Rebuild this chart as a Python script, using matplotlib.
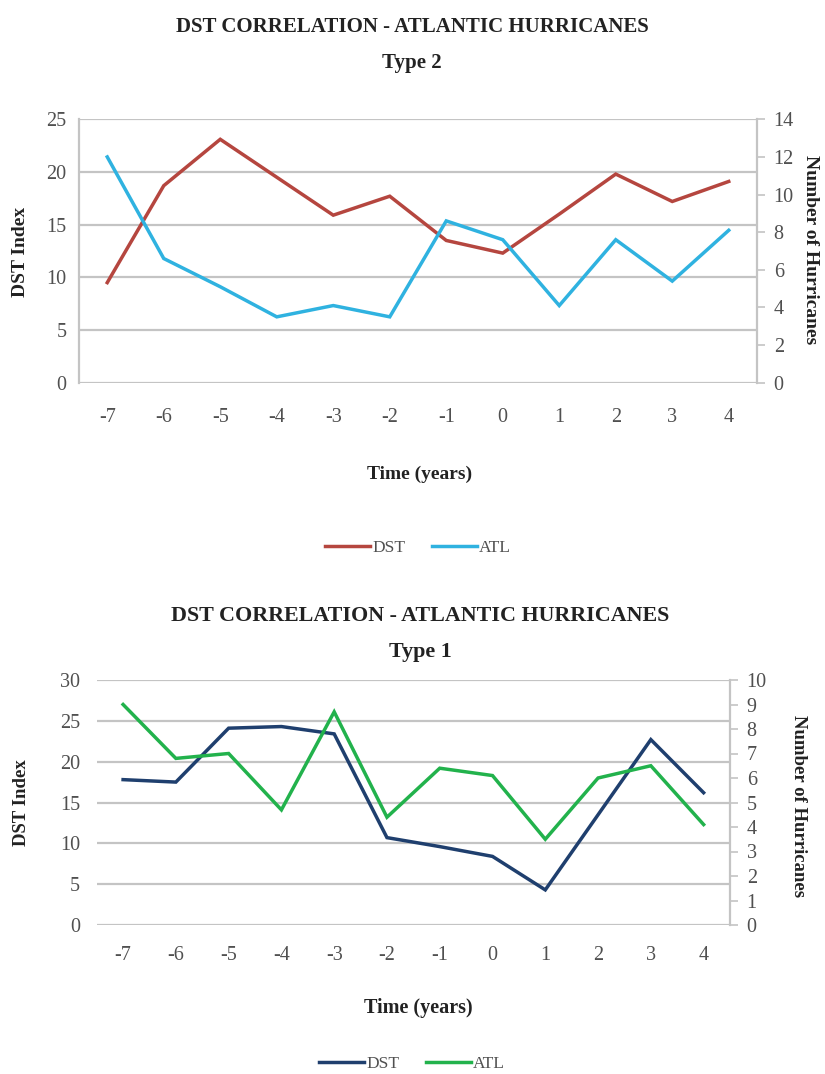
import matplotlib
matplotlib.use("Agg")
import matplotlib.pyplot as plt
from matplotlib.lines import Line2D

plt.rcParams['font.family'] = ['Liberation Serif', 'DejaVu Serif']

# Years relative to event
years = ["-7", "-6", "-5", "-4", "-3", "-2", "-1", "0", "1", "2", "3", "4"]

# Type 2 events
dst_type2 = [9.5, 18.7, 23.1, 19.5, 15.9, 17.7, 13.5, 12.3, 16.0, 19.8, 17.2, 19.1]
atl_type2 = [12.0, 6.6, 5.1, 3.5, 4.1, 3.5, 8.6, 7.6, 4.1, 7.6, 5.4, 8.1]

# Type 1 events
dst_type1 = [17.8, 17.5, 24.1, 24.3, 23.4, 10.7, 9.6, 8.4, 4.3, 13.5, 22.7, 16.2]
atl_type1 = [9.0, 6.8, 7.0, 4.7, 8.7, 4.4, 6.4, 6.1, 3.5, 6.0, 6.5, 4.1]

W, H = 825, 1074
fig = plt.figure(figsize=(W / 100, H / 100), dpi=100)

GRID = "#c4c4c4"
TICKC = "#505050"
TXT = "#222222"
LW = 2.5


def fx(px):
    return px / W


def fy(py):
    return 1 - py / H


def make_chart(rect, dst, atl, c_dst, c_atl, left_max, left_step, right_max, right_step,
               left_spine, xpad, lpad, rpad):
    x = list(range(len(years)))
    ax = fig.add_axes(rect)
    ax2 = ax.twinx()
    ax.set_zorder(ax2.get_zorder() - 1)
    ax.patch.set_visible(False)

    ax.plot(x, dst, color=c_dst, lw=LW, solid_joinstyle='miter', zorder=3)
    ax2.plot(x, atl, color=c_atl, lw=LW, solid_joinstyle='miter', zorder=3)

    ax.set_xlim(-0.5, len(years) - 0.5)
    ax.set_ylim(0, left_max)
    ax.set_yticks(range(0, left_max + 1, left_step))
    ax2.set_ylim(0, right_max)
    ax2.set_yticks(range(0, right_max + 1, right_step))
    ax.set_xticks(x)
    ax.set_xticklabels(years)

    ax.yaxis.grid(True, color=GRID, lw=1.6)
    ax.set_axisbelow(True)

    for a in (ax, ax2):
        for s in ("top", "bottom", "left", "right"):
            a.spines[s].set_visible(False)
    if left_spine:
        ax.spines["left"].set_visible(True)
        ax.spines["left"].set_color(GRID)
        ax.spines["left"].set_linewidth(1.6)
    ax2.spines["right"].set_visible(True)
    ax2.spines["right"].set_color(GRID)
    ax2.spines["right"].set_linewidth(1.6)

    ax.tick_params(axis="x", length=0, pad=xpad, labelsize=14.5, labelcolor=TICKC)
    ax.tick_params(axis="y", length=0, pad=lpad, labelsize=14.5, labelcolor=TICKC)
    ax2.tick_params(axis="y", length=6, width=1.2, color=GRID, pad=rpad,
                    labelsize=14.5, labelcolor=TICKC, direction="out")
    return ax, ax2


# ---- Type 2 chart ----
make_chart([fx(79), fy(382.7), fx(757) - fx(79), fy(119.3) - fy(382.7)],
           dst_type2, atl_type2, "#b5463f", "#2fb2e0", 25, 5, 14, 2,
           True, 18, 9, 6)

fig.text(fx(412), fy(27), "DST CORRELATION - ATLANTIC HURRICANES", ha="center", va="center",
         fontsize=15, fontweight="bold", color=TXT)
fig.text(fx(412), fy(63), "Type 2", ha="center", va="center",
         fontsize=15, fontweight="bold", color=TXT)
fig.text(fx(21), fy(252), "DST Index", ha="center", va="center", rotation=90,
         fontsize=14, fontweight="bold", color=TXT)
fig.text(fx(810), fy(250), "Number of Hurricanes", ha="center", va="center", rotation=-90,
         fontsize=14, fontweight="bold", color=TXT)
fig.text(fx(420), fy(474), "Time (years)", ha="center", va="center",
         fontsize=14, fontweight="bold", color=TXT)
fig.legend(handles=[Line2D([], [], color="#b5463f", lw=LW),
                    Line2D([], [], color="#2fb2e0", lw=LW)],
           labels=["DST", "ATL"], loc="center", bbox_to_anchor=(fx(418), fy(548)),
           ncol=2, frameon=False, fontsize=12.5, handlelength=2.6, handletextpad=0.15,
           columnspacing=1.5, labelcolor=TICKC)

# ---- Type 1 chart ----
make_chart([fx(96.7), fy(925), fx(730) - fx(96.7), fy(680) - fy(925)],
           dst_type1, atl_type1, "#1f3f6e", "#22b24c", 30, 5, 10, 1,
           False, 15, 12, 6)

fig.text(fx(420), fy(616), "DST CORRELATION - ATLANTIC HURRICANES", ha="center", va="center",
         fontsize=15.8, fontweight="bold", color=TXT)
fig.text(fx(420), fy(652), "Type 1", ha="center", va="center",
         fontsize=15.8, fontweight="bold", color=TXT)
fig.text(fx(22), fy(803), "DST Index", ha="center", va="center", rotation=90,
         fontsize=13.5, fontweight="bold", color=TXT)
fig.text(fx(798), fy(806), "Number of Hurricanes", ha="center", va="center", rotation=-90,
         fontsize=13.5, fontweight="bold", color=TXT)
fig.text(fx(418), fy(1008), "Time (years)", ha="center", va="center",
         fontsize=14.5, fontweight="bold", color=TXT)
fig.legend(handles=[Line2D([], [], color="#1f3f6e", lw=LW),
                    Line2D([], [], color="#22b24c", lw=LW)],
           labels=["DST", "ATL"], loc="center", bbox_to_anchor=(fx(412), fy(1064)),
           ncol=2, frameon=False, fontsize=12.5, handlelength=2.6, handletextpad=0.15,
           columnspacing=1.5, labelcolor=TICKC)

fig.savefig("out.png", dpi=100)
